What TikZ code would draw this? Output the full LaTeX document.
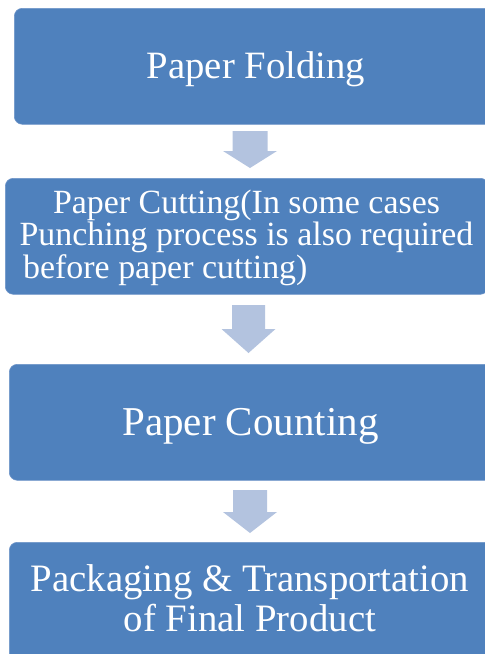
\documentclass[tikz,border=0pt]{standalone}
\usepackage{fontspec}
\setmainfont{Liberation Serif}
\usetikzlibrary{calc}
\definecolor{boxblue}{HTML}{4F81BD}
\definecolor{boxedge}{HTML}{6E94C8}
\definecolor{arrowblue}{HTML}{B3C3DF}
\tikzset{
  stepbox/.style={fill=boxblue, draw=boxedge, line width=0.6pt, rounded corners=8pt},
  boxtext/.style={text=white, inner sep=0pt, anchor=base},
  blockarrow/.style={fill=arrowblue, draw=none}
}
\newcommand\bigtxt[1]{\fontsize{#1}{#1}\selectfont}
\newcommand\drawBlockArrow[5]{%
  % #1 centre x, #2 top y, #3 head start y, #4 tip y, #5 shaft half width
  \fill[blockarrow] (#1-#5,#2) -- (#1+#5,#2) -- (#1+#5,#3) -- (#1+27,#3)
     -- (#1,#4) -- (#1-27,#3) -- (#1-#5,#3) -- cycle;}
\begin{document}
\begin{tikzpicture}[x=1pt,y=-1pt]
\useasboundingbox (0,0) rectangle (485,654);
\clip (0,0) rectangle (485,654);

% boxes
\node[stepbox, inner sep=0pt, minimum width=484pt, minimum height=116pt, anchor=north west] (b1) at (14,8) {};
\node[stepbox, inner sep=0pt, minimum width=483pt, minimum height=116pt, anchor=north west] (b2) at (5,178) {};
\node[stepbox, inner sep=0pt, minimum width=483pt, minimum height=116pt, anchor=north west] (b3) at (9,364) {};
\node[stepbox, inner sep=0pt, minimum width=483pt, minimum height=124pt, anchor=north west] (b4) at (9,542) {};

% texts
\node[boxtext] (t1) at (256,78) {\bigtxt{38.7}Paper Folding};
\node[boxtext] (t2a) at (246.5,213) {\bigtxt{33.9}Paper Cutting(In some cases};
\node[boxtext] (t2b) at (246.5,245) {\bigtxt{33.9}Punching process is also required};
\node[boxtext, anchor=base west] (t2c) at (23,278) {\bigtxt{33.9}before paper cutting)};
\node[boxtext] (t3) at (250.5,435) {\bigtxt{41}Paper Counting};
\node[boxtext] (t4a) at (250,591) {\bigtxt{38.8}Packaging \& Transportation};
\node[boxtext] (t4b) at (250,631) {\bigtxt{38.8}of Final Product};

% block arrows between boxes
\drawBlockArrow{250}{131}{151}{168}{17.5}
\drawBlockArrow{248.5}{305}{329}{353}{16.5}
\drawBlockArrow{250}{490}{512}{533}{17}
\end{tikzpicture}
\end{document}
